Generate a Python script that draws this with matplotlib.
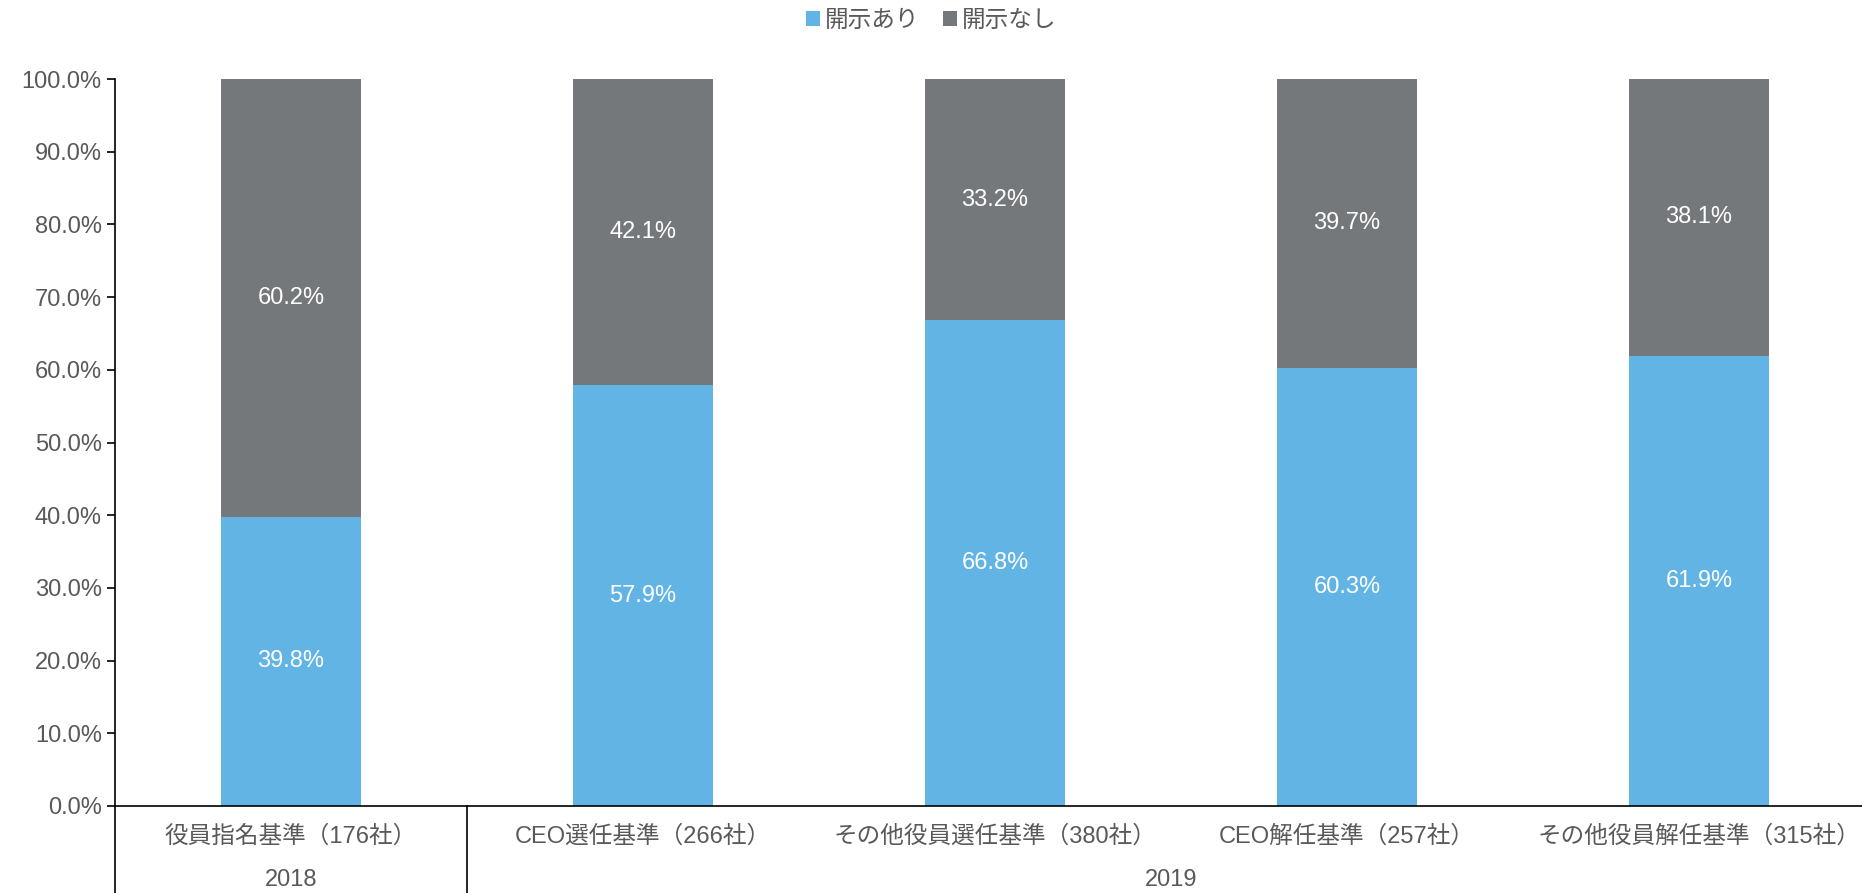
import numpy as np
import matplotlib.pyplot as plt
import matplotlib.transforms as mtransforms
from matplotlib.ticker import PercentFormatter

plt.rcParams['font.family'] = ['Liberation Sans', 'Noto Sans CJK JP']

categories = ['役員指名基準（176社）', 'CEO選任基準（266社）', 'その他役員選任基準（380社）',
              'CEO解任基準（257社）', 'その他役員解任基準（315社）']
years = ['2018', '2019']
disclosed = [39.8, 57.9, 66.8, 60.3, 61.9]
not_disclosed = [60.2, 42.1, 33.2, 39.7, 38.1]

blue = '#62b4e4'
grey = '#75787b'
text_col = '#595959'
fs = 17

fig = plt.figure(figsize=(18.62, 8.93), dpi=100)
ax = fig.add_axes([115 / 1862, 87 / 893, 1760 / 1862, 727 / 893])

x = np.arange(len(categories))
b1 = ax.bar(x, disclosed, width=0.4, color=blue, label='開示あり')
b2 = ax.bar(x, not_disclosed, width=0.4, bottom=disclosed, color=grey, label='開示なし')

for i in range(len(x)):
    ax.text(x[i], disclosed[i] / 2, f'{disclosed[i]:.1f}%', ha='center', va='center',
            color='white', fontsize=fs)
    ax.text(x[i], disclosed[i] + not_disclosed[i] / 2, f'{not_disclosed[i]:.1f}%',
            ha='center', va='center', color='white', fontsize=fs)

ax.set_xlim(-0.5, len(categories) - 0.5)
ax.set_ylim(0, 100)
ax.set_yticks(np.arange(0, 101, 10))
ax.yaxis.set_major_formatter(PercentFormatter(decimals=1))
ax.tick_params(axis='y', labelsize=fs, labelcolor=text_col, length=6, width=1.2, color='black')
ax.set_xticks([])

for s in ['top', 'right']:
    ax.spines[s].set_visible(False)
ax.spines['left'].set_linewidth(1.2)
ax.spines['bottom'].set_linewidth(1.2)

# category and year labels below the axis, with group separators
trans = mtransforms.blended_transform_factory(ax.transData, ax.transAxes)
for i, c in enumerate(categories):
    ax.text(x[i], -0.042, c, transform=trans, ha='center', va='center',
            fontsize=fs, color=text_col)
ax.text(0, -0.102, years[0], transform=trans, ha='center', va='center', fontsize=fs, color=text_col)
ax.text((1 + len(categories) - 1) / 2, -0.102, years[1], transform=trans, ha='center',
        va='center', fontsize=fs, color=text_col)
for xs in [-0.5, 0.5]:
    ax.plot([xs, xs], [0, -0.13], transform=trans, color='black', lw=1.2, clip_on=False)

leg = fig.legend(handles=[b1, b2], loc='center', bbox_to_anchor=(0.5, 1 - 21 / 893), ncol=2,
                 frameon=False, fontsize=fs, handlelength=0.6, handleheight=0.6,
                 handletextpad=0.2, columnspacing=1.0)
for t in leg.get_texts():
    t.set_color(text_col)

fig.savefig('out.png', dpi=100)
